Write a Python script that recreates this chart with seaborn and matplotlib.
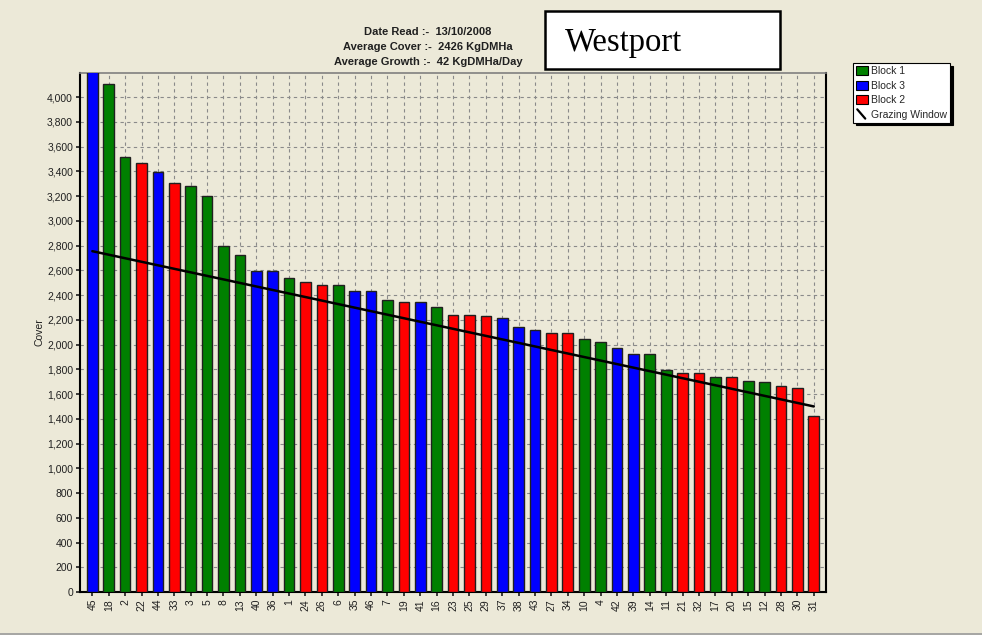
import pandas as pd
import matplotlib
matplotlib.use("Agg")
import matplotlib.pyplot as plt
import seaborn as sns
from matplotlib.lines import Line2D
from matplotlib.patches import Rectangle
from matplotlib.legend_handler import HandlerBase
from matplotlib.ticker import FuncFormatter, MultipleLocator

# paddock numbers, in the order they appear on the chart
paddocks = ["45", "18", "2", "22", "44", "33", "3", "5", "8", "13", "40", "36",
            "1", "24", "26", "6", "35", "46", "7", "19", "41", "16", "23", "25",
            "29", "37", "38", "43", "27", "34", "10", "4", "42", "39", "14", "11",
            "21", "32", "17", "20", "15", "12", "28", "30", "31"]

blocks = ["Block 3", "Block 1", "Block 1", "Block 2", "Block 3", "Block 2",
          "Block 1", "Block 1", "Block 1", "Block 1", "Block 3", "Block 3",
          "Block 1", "Block 2", "Block 2", "Block 1", "Block 3", "Block 3",
          "Block 1", "Block 2", "Block 3", "Block 1", "Block 2", "Block 2",
          "Block 2", "Block 3", "Block 3", "Block 3", "Block 2", "Block 2",
          "Block 1", "Block 1", "Block 3", "Block 3", "Block 1", "Block 1",
          "Block 2", "Block 2", "Block 1", "Block 2", "Block 1", "Block 1",
          "Block 2", "Block 2", "Block 2"]

cover = [4300, 4108, 3520, 3466, 3396, 3309, 3285, 3198, 2794, 2721, 2596, 2596,
         2539, 2506, 2484, 2484, 2430, 2430, 2360, 2344, 2344, 2305, 2240, 2240,
         2232, 2216, 2146, 2117, 2091, 2091, 2044, 2022, 1973, 1922, 1922, 1793,
         1771, 1771, 1738, 1738, 1706, 1700, 1668, 1647, 1420]

# grazing window: straight line from first to last paddock
grazing_ends = ["45", "31"]
grazing_cover = [2755, 1500]

block_order = ["Block 1", "Block 3", "Block 2"]
block_colors = {"Block 1": "#008000", "Block 3": "#0000FF", "Block 2": "#FF0000"}

BG = "#ECE9D8"

sns.set_theme(style="ticks")
plt.rcParams["font.family"] = ["Liberation Sans", "DejaVu Sans"]

df = pd.DataFrame({"Paddock": paddocks, "Block": blocks, "Cover": cover})

fig = plt.figure(figsize=(9.82, 6.35), dpi=100, facecolor=BG)
ax = fig.add_axes([0.0815, 0.0677, 0.7597, 0.8173])
ax.set_facecolor(BG)

sns.barplot(data=df, x="Paddock", y="Cover", hue="Block", order=paddocks,
            hue_order=block_order, palette=block_colors, dodge=False,
            width=0.65, edgecolor="#202020", linewidth=1.0, saturation=1,
            legend=False, ax=ax, zorder=3)

line_x = [paddocks.index(p) for p in grazing_ends]
sns.lineplot(x=line_x, y=grazing_cover, color="black", linewidth=1.8,
             ax=ax, zorder=4)

ax.set_xlim(-0.75, len(paddocks) - 0.25)
ax.set_ylim(0, 4195)
ax.yaxis.set_major_locator(MultipleLocator(200))
ax.yaxis.set_major_formatter(FuncFormatter(lambda v, p: f"{v:,.0f}"))
ax.grid(True, color="#8a8a8a", linestyle=(0, (3, 3)), linewidth=0.8, zorder=0)
ax.set_axisbelow(True)

ax.tick_params(axis="x", labelrotation=90, labelsize=7.5, length=3, pad=2,
               labelcolor="#202020")
ax.tick_params(axis="y", labelsize=7.5, length=3, pad=2, labelcolor="#202020")
ax.set_xlabel("")
ax.set_ylabel("Cover", fontsize=7.5, labelpad=2, color="#202020")

for side in ["left", "bottom", "right"]:
    ax.spines[side].set_color("black")
    ax.spines[side].set_linewidth(1.5)
ax.spines["top"].set_color("#808080")
ax.spines["top"].set_linewidth(1.2)


class DiagonalLine(HandlerBase):
    def create_artists(self, legend, orig, xd, yd, w, h, fontsize, trans):
        ln = Line2D([-xd + 0.1 * w, -xd + 0.8 * w], [h - yd, -yd],
                    color="black", linewidth=1.6, transform=trans)
        return [ln]


handles = [Rectangle((0, 0), 1, 1, facecolor=block_colors[b], edgecolor="black",
                     linewidth=0.8) for b in block_order]
grazing_handle = Line2D([], [], color="black")
leg = fig.legend(handles + [grazing_handle], block_order + ["Grazing Window"],
                 loc="upper left", bbox_to_anchor=(0.8686, 0.9008),
                 fontsize=7.5, frameon=True, fancybox=False, framealpha=1,
                 edgecolor="black", facecolor="white", borderpad=0.3,
                 handlelength=1.1, handleheight=1.0, handletextpad=0.3,
                 labelspacing=0.4, borderaxespad=0,
                 shadow={"color": "black", "alpha": 1},
                 handler_map={grazing_handle: DiagonalLine()})
leg.get_frame().set_linewidth(0.8)

header = ["Date Read :-  13/10/2008",
          "Average Cover :-  2426 KgDMHa",
          "Average Growth :-  42 KgDMHa/Day"]
for i, line in enumerate(header):
    fig.text(0.436, 1 - (32 + 15 * i) / 635, line, ha="center", va="center",
             fontsize=8, fontweight="bold", color="#202020")

fig.add_artist(Rectangle((0.555, 0.8913), 0.2393, 0.0913, transform=fig.transFigure,
                         facecolor="white", edgecolor="black", linewidth=1.8))
fig.text(0.5754, 0.933, "Westport", fontsize=23.5, family="Liberation Serif",
         ha="left", va="center", color="black")

fig.add_artist(Line2D([0, 1], [0.002, 0.002], transform=fig.transFigure,
                      color="#9a9a9a", linewidth=1.2))

fig.savefig("out.png", dpi=100, facecolor=BG)
